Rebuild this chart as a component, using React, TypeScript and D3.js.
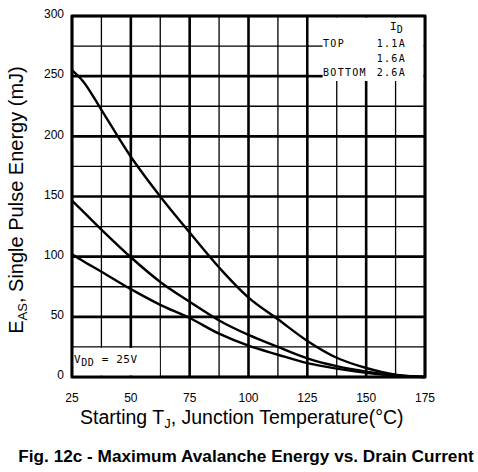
import * as d3 from "d3";

const W = 478;
const H = 472;
const MARGIN = { top: 16, right: 53, bottom: 95, left: 72 };

// Junction temperature (°C) sample points
const TEMPS = [25, 30, 37.5, 50, 62.5, 75, 87.5, 100, 112.5, 125, 137.5, 150, 162.5, 175];
// E_AS (mJ) per drain current
const EAS_1_1A = [255, 245, 222, 183, 150, 120, 91, 66, 48, 30, 16, 7.5, 2, 0];
const EAS_1_6A = [146.5, 137, 122.5, 99.5, 79, 62.5, 47, 35, 25, 15.5, 9, 4.5, 1.5, 0];
const EAS_2_6A = [102, 96, 87.5, 73, 60, 49, 36, 26, 18.5, 11.5, 7, 3.5, 1, 0];

const X_TICKS = [25, 50, 75, 100, 125, 150, 175];
const Y_TICKS = [0, 50, 100, 150, 200, 250, 300];
const X_GRID = d3.range(25, 175.1, 12.5);
const Y_GRID = d3.range(0, 300.1, 25);

const SERIES = [EAS_1_1A, EAS_1_6A, EAS_2_6A];

const LEGEND_ROWS = [
  { pos: "TOP", current: "1.1A" },
  { pos: "", current: "1.6A" },
  { pos: "BOTTOM", current: "2.6A" },
];

const SANS = "'Liberation Sans', Arial, sans-serif";
const MONO = "'DejaVu Sans Mono', monospace";

export default function App() {
  const x = d3
    .scaleLinear()
    .domain([25, 175])
    .range([MARGIN.left, W - MARGIN.right]);
  const y = d3
    .scaleLinear()
    .domain([0, 300])
    .range([H - MARGIN.bottom, MARGIN.top]);

  const line = d3
    .line<number>()
    .x((_, i) => x(TEMPS[i]))
    .y((d) => y(d))
    .curve(d3.curveCatmullRom.alpha(0.5));

  const isMajorX = (t: number) => t % 25 === 0;
  const isMajorY = (v: number) => v % 50 === 0;

  return (
    <svg
      width={W}
      height={H}
      style={{ position: "absolute", left: 0, top: 0, background: "#fff" }}
    >
      {/* grid */}
      {X_GRID.map((t) => (
        <line
          key={"gx" + t}
          x1={x(t)}
          x2={x(t)}
          y1={y(0)}
          y2={y(300)}
          stroke="#000"
          strokeWidth={isMajorX(t) ? 2.6 : 1.3}
        />
      ))}
      {Y_GRID.map((v) => (
        <line
          key={"gy" + v}
          x1={x(25)}
          x2={x(175)}
          y1={y(v)}
          y2={y(v)}
          stroke="#000"
          strokeWidth={isMajorY(v) ? 2.6 : 1.3}
        />
      ))}

      {/* legend area blanks the grid */}
      <rect
        x={x(125) + 1.5}
        y={y(300) + 1.5}
        width={x(175) - x(125) - 3}
        height={y(246) - y(300) - 1.5}
        fill="#fff"
      />
      <line x1={x(125)} x2={x(131.5)} y1={y(275)} y2={y(275)} stroke="#000" strokeWidth={1.3} />
      <line x1={x(125)} x2={x(131.5)} y1={y(250)} y2={y(250)} stroke="#000" strokeWidth={2.6} />

      {/* V_DD note blanks the grid */}
      <rect
        x={x(25) + 1.5}
        y={y(25) + 1}
        width={x(62.5) - x(25) - 2}
        height={y(0) - y(25) - 2.5}
        fill="#fff"
      />

      {/* curves */}
      {SERIES.map((s, i) => (
        <path
          key={"s" + i}
          d={line(s) ?? ""}
          fill="none"
          stroke="#000"
          strokeWidth={2.4}
          strokeLinejoin="round"
        />
      ))}

      {/* frame */}
      <rect
        x={x(25)}
        y={y(300)}
        width={x(175) - x(25)}
        height={y(0) - y(300)}
        fill="none"
        stroke="#000"
        strokeWidth={2.8}
      />

      {/* legend */}
      <text x={390} y={30} fontFamily={MONO} fontSize={11} fill="#000">
        I<tspan fontSize={10} dy={3}>D</tspan>
      </text>
      {LEGEND_ROWS.map((r, i) => (
        <g key={"lg" + i} fontFamily={MONO} fontSize={10} fill="#000" letterSpacing={1.3}>
          <text x={323} y={47 + i * 14.5}>{r.pos}</text>
          <text x={406} y={47 + i * 14.5} textAnchor="end">
            {r.current}
          </text>
        </g>
      ))}

      <text x={74} y={363} fontFamily={MONO} fontSize={11} fill="#000" letterSpacing={0.6}>
        V<tspan fontSize={10} dy={3}>DD</tspan>
        <tspan dy={-3}> = 25V</tspan>
      </text>

      {/* tick labels */}
      {Y_TICKS.map((v) => (
        <text
          key={"yt" + v}
          x={x(25) - 8}
          y={y(v) - 2}
          dy="0.35em"
          textAnchor="end"
          fontFamily={SANS}
          fontSize={12}
          fill="#000"
        >
          {v}
        </text>
      ))}
      {X_TICKS.map((t) => (
        <text
          key={"xt" + t}
          x={x(t)}
          y={402}
          textAnchor="middle"
          fontFamily={SANS}
          fontSize={12}
          fill="#000"
        >
          {t}
        </text>
      ))}

      {/* axis titles */}
      <text x={80} y={424} fontFamily={SANS} fontSize={19.5} fill="#000">
        Starting T<tspan fontSize={13} dy={4}>J</tspan>
        <tspan dy={-4}>, Junction Temperature(°C)</tspan>
      </text>
      <text
        transform="translate(23, 200) rotate(-90)"
        textAnchor="middle"
        fontFamily={SANS}
        fontSize={20}
        fill="#000"
      >
        E<tspan fontSize={13} dy={4}>AS</tspan>
        <tspan dy={-4}>, Single Pulse Energy (mJ)</tspan>
      </text>

      {/* caption */}
      <text
        x={246}
        y={462}
        textAnchor="middle"
        fontFamily={SANS}
        fontWeight="bold"
        fontSize={17.2}
        fill="#000"
      >
        Fig. 12c - Maximum Avalanche Energy vs. Drain Current
      </text>
    </svg>
  );
}
